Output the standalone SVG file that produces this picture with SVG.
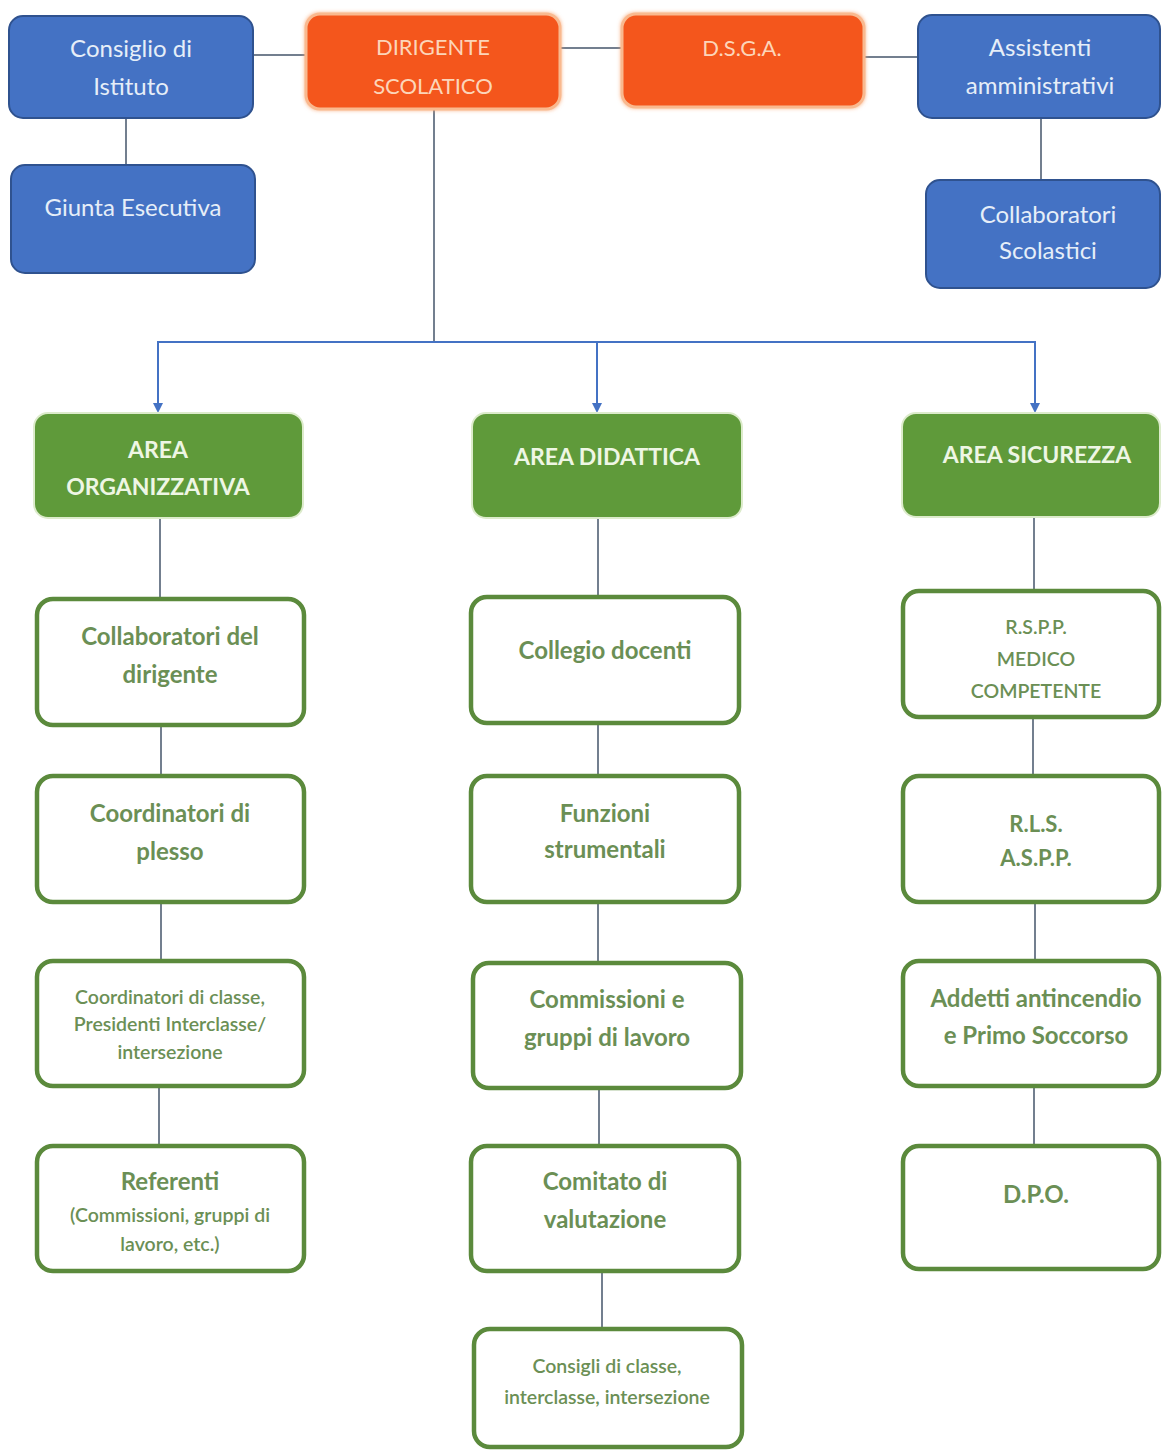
<svg xmlns="http://www.w3.org/2000/svg" width="1162" height="1451" viewBox="0 0 1162 1451">
<defs>
<style>
.blue{fill:#4472C4;stroke:#2F528F;stroke-width:2}
.orange{fill:#F4561C;stroke:#F9B98F;stroke-width:3}
.green{fill:#5F9A3A;stroke:#DCEBCB;stroke-width:2}
.white{fill:#FFFFFF;stroke:#5B8A3C;stroke-width:4.5}
.t{font-family:Lato,"Open Sans",sans-serif;text-anchor:middle}
.tb{fill:#E6EEF8;font-size:24px}
.to{fill:#FCD5B9;font-size:22px}
.tg{fill:#EEF6E4;font-size:23px;font-weight:bold}
.tw{fill:#6B8F55;font-size:24px;font-weight:bold}
.tws{fill:#6B8F55;font-size:19.5px;font-weight:600}
.line{stroke:#44546A;stroke-width:1.5;fill:none}
.arr{stroke:#4472C4;stroke-width:2;fill:none}
</style>
<marker id="ah" markerWidth="10" markerHeight="10" refX="8" refY="5" orient="auto" markerUnits="userSpaceOnUse">
<path d="M0,0 L10,5 L0,10 z" fill="#4472C4"/>
</marker>
<filter id="glow" x="-10%" y="-10%" width="120%" height="120%">
<feGaussianBlur stdDeviation="2"/>
</filter>
</defs>
<rect width="1162" height="1451" fill="#FFFFFF"/>

<g id="connectors">
<line class="line" x1="253" y1="55" x2="305" y2="55"/>
<line class="line" x1="126" y1="118" x2="126" y2="165"/>
<line class="line" x1="561" y1="48" x2="621" y2="48"/>
<line class="line" x1="865" y1="57" x2="918" y2="57"/>
<line class="line" x1="1041" y1="118" x2="1041" y2="180"/>
<line class="line" x1="434" y1="110" x2="434" y2="342"/>
<polyline class="arr" points="158,411 158,342 1035,342 1035,411" marker-end="url(#ah)"/>
<line class="arr" x1="158" y1="342" x2="158" y2="411" marker-end="url(#ah)"/>
<line class="arr" x1="597" y1="342" x2="597" y2="411" marker-end="url(#ah)"/>
<line class="line" x1="160" y1="518" x2="160" y2="598"/>
<line class="line" x1="161" y1="726" x2="161" y2="775"/>
<line class="line" x1="161" y1="903" x2="161" y2="960"/>
<line class="line" x1="159" y1="1087" x2="159" y2="1145"/>
<line class="line" x1="598" y1="518" x2="598" y2="596"/>
<line class="line" x1="598" y1="724" x2="598" y2="775"/>
<line class="line" x1="598" y1="903" x2="598" y2="962"/>
<line class="line" x1="599" y1="1089" x2="599" y2="1145"/>
<line class="line" x1="602" y1="1272" x2="602" y2="1328"/>
<line class="line" x1="1034" y1="517" x2="1034" y2="590"/>
<line class="line" x1="1033" y1="718" x2="1033" y2="775"/>
<line class="line" x1="1035" y1="903" x2="1035" y2="960"/>
<line class="line" x1="1034" y1="1087" x2="1034" y2="1145"/>
</g>

<g id="consiglio">
<rect class="blue" x="9" y="16" width="244" height="102" rx="14"/>
<text class="t tb" x="131" y="57">Consiglio di</text>
<text class="t tb" x="131" y="95">Istituto</text>
</g>
<g id="giunta">
<rect class="blue" x="11" y="165" width="244" height="108" rx="14"/>
<text class="t tb" x="133" y="216">Giunta Esecutiva</text>
</g>
<g id="dirigente">
<rect x="305" y="13" width="256" height="97" rx="14" fill="#F9A46E" filter="url(#glow)"/>
<rect class="orange" x="306" y="14" width="254" height="95" rx="14"/>
<text class="t to" x="433" y="55">DIRIGENTE</text>
<text class="t to" x="433" y="94">SCOLATICO</text>
</g>
<g id="dsga">
<rect x="621" y="13" width="244" height="95" rx="14" fill="#F9A46E" filter="url(#glow)"/>
<rect class="orange" x="622" y="14" width="242" height="93" rx="14"/>
<text class="t to" x="742" y="56">D.S.G.A.</text>
</g>
<g id="assistenti">
<rect class="blue" x="918" y="15" width="242" height="103" rx="14"/>
<text class="t tb" x="1040" y="56">Assistenti</text>
<text class="t tb" x="1040" y="94">amministrativi</text>
</g>
<g id="collaboratori-scolastici">
<rect class="blue" x="926" y="180" width="234" height="108" rx="14"/>
<text class="t tb" x="1048" y="223">Collaboratori</text>
<text class="t tb" x="1048" y="259">Scolastici</text>
</g>

<g id="area-organizzativa">
<rect class="green" x="34" y="413" width="269" height="105" rx="14"/>
<text class="t tg" x="158" y="458">AREA</text>
<text class="t tg" x="158" y="495">ORGANIZZATIVA</text>
</g>
<g id="area-didattica">
<rect class="green" x="472" y="413" width="270" height="105" rx="14"/>
<text class="t tg" x="607" y="465">AREA DIDATTICA</text>
</g>
<g id="area-sicurezza">
<rect class="green" x="902" y="413" width="258" height="104" rx="14"/>
<text class="t tg" x="1037" y="463">AREA SICUREZZA</text>
</g>

<g id="collaboratori-dirigente">
<rect class="white" x="37" y="599" width="267" height="126" rx="16"/>
<text class="t tw" x="170" y="645">Collaboratori del</text>
<text class="t tw" x="170" y="683">dirigente</text>
</g>
<g id="coordinatori-plesso">
<rect class="white" x="37" y="776" width="267" height="126" rx="16"/>
<text class="t tw" x="170" y="822">Coordinatori di</text>
<text class="t tw" x="170" y="860">plesso</text>
</g>
<g id="coordinatori-classe">
<rect class="white" x="37" y="961" width="267" height="125" rx="16"/>
<text class="t tws" x="170" y="1004">Coordinatori di classe,</text>
<text class="t tws" x="170" y="1031">Presidenti Interclasse/</text>
<text class="t tws" x="170" y="1059">intersezione</text>
</g>
<g id="referenti">
<rect class="white" x="37" y="1146" width="267" height="125" rx="16"/>
<text class="t tw" x="170" y="1190">Referenti</text>
<text class="t tws" x="170" y="1222">(Commissioni, gruppi di</text>
<text class="t tws" x="170" y="1251">lavoro, etc.)</text>
</g>

<g id="collegio-docenti">
<rect class="white" x="471" y="597" width="268" height="126" rx="16"/>
<text class="t tw" x="605" y="659">Collegio docenti</text>
</g>
<g id="funzioni-strumentali">
<rect class="white" x="471" y="776" width="268" height="126" rx="16"/>
<text class="t tw" x="605" y="822">Funzioni</text>
<text class="t tw" x="605" y="858">strumentali</text>
</g>
<g id="commissioni">
<rect class="white" x="473" y="963" width="268" height="125" rx="16"/>
<text class="t tw" x="607" y="1008">Commissioni e</text>
<text class="t tw" x="607" y="1046">gruppi di lavoro</text>
</g>
<g id="comitato">
<rect class="white" x="471" y="1146" width="268" height="125" rx="16"/>
<text class="t tw" x="605" y="1190">Comitato di</text>
<text class="t tw" x="605" y="1228">valutazione</text>
</g>
<g id="consigli-classe">
<rect class="white" x="474" y="1329" width="268" height="118" rx="16"/>
<text class="t tws" x="607" y="1373">Consigli di classe,</text>
<text class="t tws" x="607" y="1404">interclasse, intersezione</text>
</g>

<g id="rspp">
<rect class="white" x="903" y="591" width="256" height="126" rx="16"/>
<text class="t tws" x="1036" y="634">R.S.P.P.</text>
<text class="t tws" x="1036" y="666">MEDICO</text>
<text class="t tws" x="1036" y="698">COMPETENTE</text>
</g>
<g id="rls">
<rect class="white" x="903" y="776" width="256" height="126" rx="16"/>
<text class="t tw" x="1036" y="832" style="font-size:22px">R.L.S.</text>
<text class="t tw" x="1036" y="866" style="font-size:22px">A.S.P.P.</text>
</g>
<g id="addetti">
<rect class="white" x="903" y="961" width="256" height="125" rx="16"/>
<text class="t tw" x="1036" y="1007">Addetti antincendio</text>
<text class="t tw" x="1036" y="1044">e Primo Soccorso</text>
</g>
<g id="dpo">
<rect class="white" x="903" y="1146" width="256" height="123" rx="16"/>
<text class="t tw" x="1036" y="1203">D.P.O.</text>
</g>
</svg>
